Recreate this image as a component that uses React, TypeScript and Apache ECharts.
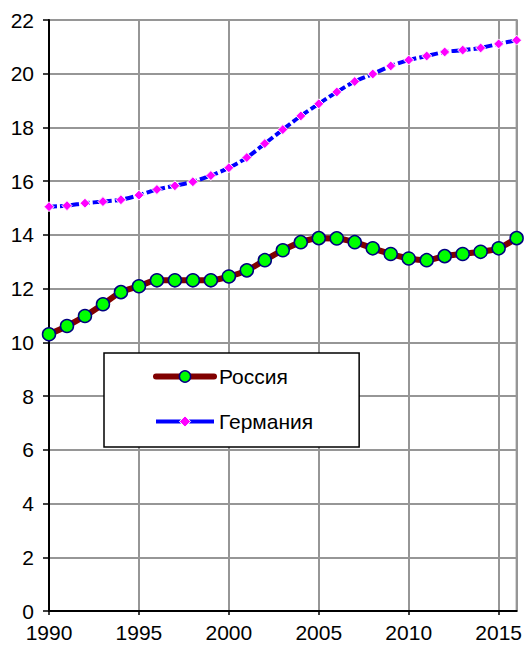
import React, { useEffect, useRef } from "react";
import * as echarts from "echarts";

const years: number[] = [
  1990, 1991, 1992, 1993, 1994, 1995, 1996, 1997, 1998, 1999, 2000, 2001, 2002,
  2003, 2004, 2005, 2006, 2007, 2008, 2009, 2010, 2011, 2012, 2013, 2014, 2015, 2016,
];
const russia: number[] = [
  10.3, 10.61, 10.98, 11.42, 11.87, 12.09, 12.31, 12.31, 12.31, 12.31, 12.45, 12.68, 13.06,
  13.43, 13.73, 13.88, 13.87, 13.73, 13.5, 13.29, 13.12, 13.06, 13.21, 13.29, 13.37, 13.5, 13.88,
];
const germany: number[] = [
  15.05, 15.09, 15.18, 15.24, 15.31, 15.48, 15.69, 15.83, 15.98, 16.21, 16.5, 16.88, 17.4,
  17.92, 18.43, 18.88, 19.32, 19.71, 19.99, 20.29, 20.51, 20.66, 20.81, 20.88, 20.96, 21.11, 21.25,
];
const seriesNames: string[] = ["Россия", "Германия"];

const FONT = "'Liberation Sans', Arial, sans-serif";

const ruLine = { color: "#800000", width: 6, cap: "round" as const };
const ruItem = { color: "#00ff00", borderColor: "#000080", borderWidth: 1.5 };
const deLine = { color: "#0000ff", width: 4, type: [8, 3] };
const deItem = { color: "#ff00ff", borderColor: "#ffffff", borderWidth: 1 };

export default function App() {
  const ref = useRef<HTMLDivElement>(null);
  useEffect(() => {
    document.body.style.margin = "0";
    if (!ref.current) return;
    const chart = echarts.init(ref.current, null, { renderer: "svg" });
    chart.setOption({
      animation: false,
      backgroundColor: "#ffffff",
      textStyle: { fontFamily: FONT },
      grid: {
        left: 49,
        right: 8,
        top: 20,
        bottom: 37,
        show: true,
        borderColor: "#969696",
        borderWidth: 2,
      },
      legend: {
        orient: "vertical",
        left: 104,
        top: 353,
        backgroundColor: "#ffffff",
        borderColor: "#000000",
        borderWidth: 1.5,
        borderRadius: 0,
        padding: [13, 46, 15, 49],
        itemWidth: 58,
        itemHeight: 14,
        itemGap: 24,
        textStyle: { fontFamily: FONT, fontSize: 21, color: "#000000" },
        data: [
          { name: seriesNames[0], lineStyle: { ...ruLine, width: 6 }, itemStyle: ruItem },
          { name: seriesNames[1], lineStyle: { color: "#0000ff", width: 4, type: "solid" }, itemStyle: deItem },
        ],
      },
      xAxis: {
        type: "value",
        min: 1990,
        max: 2016,
        interval: 5,
        axisLine: { show: true, onZero: false, lineStyle: { color: "#000000", width: 2 } },
        axisTick: { show: true, length: 4, lineStyle: { color: "#000000", width: 1.5 } },
        axisLabel: {
          fontFamily: FONT,
          fontSize: 21,
          color: "#000000",
          margin: 11,
          showMaxLabel: false,
          formatter: (v: number) => String(v),
        },
        splitLine: { show: true, lineStyle: { color: "#969696", width: 2 } },
      },
      yAxis: {
        type: "value",
        min: 0,
        max: 22,
        interval: 2,
        axisLine: { show: true, lineStyle: { color: "#000000", width: 2 } },
        axisTick: { show: true, length: 6, lineStyle: { color: "#000000", width: 1.5 } },
        axisLabel: { fontFamily: FONT, fontSize: 21, color: "#000000", margin: 15 },
        splitLine: { show: true, lineStyle: { color: "#969696", width: 2 } },
      },
      series: [
        {
          name: seriesNames[0],
          type: "line",
          smooth: 0.3,
          data: years.map((y, i) => [y, russia[i]]),
          lineStyle: ruLine,
          itemStyle: ruItem,
          symbol: "circle",
          symbolSize: 13,
          z: 3,
        },
        {
          name: seriesNames[1],
          type: "line",
          smooth: 0.3,
          data: years.map((y, i) => [y, germany[i]]),
          lineStyle: deLine,
          itemStyle: deItem,
          symbol: "diamond",
          symbolSize: 10,
          z: 2,
        },
      ],
    });
    return () => chart.dispose();
  }, []);
  return <div ref={ref} style={{ width: 525, height: 648 }} />;
}
